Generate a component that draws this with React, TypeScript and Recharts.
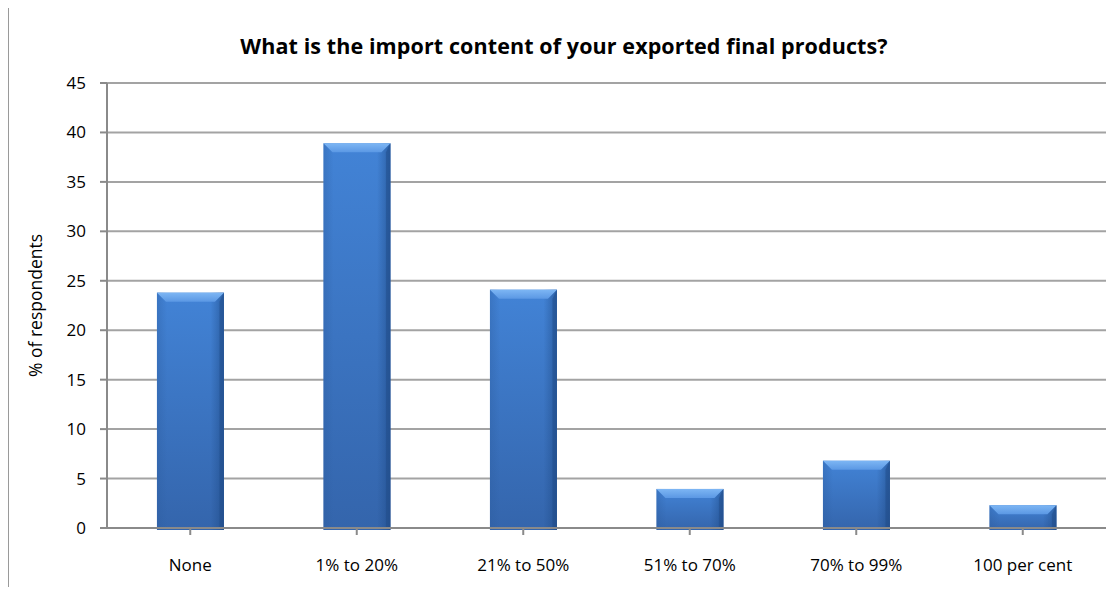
import { Bar, BarChart, CartesianGrid, XAxis, YAxis } from "recharts";

const categories = ["None", "1% to 20%", "21% to 50%", "51% to 70%", "70% to 99%", "100 per cent"];
const respondents = [23.8, 38.9, 24.1, 3.95, 6.8, 2.3];
const yTicks = [0, 5, 10, 15, 20, 25, 30, 35, 40, 45];

const data = categories.map((name, i) => ({ name, value: respondents[i] }));

const FONT = "'Open Sans', Lato, sans-serif";
const GRID = "#A3A3A3";

/** Excel-style bevelled column: darker sides, lighter bevel along the top. */
function BevelBar(props: any) {
  const { x, y, width, height } = props;
  if (!height || height <= 0) return null;
  const b = Math.min(9, height / 2);
  return (
    <g>
      <rect x={x} y={y} width={width} height={height + 2} fill="url(#barBody)" />
      <rect x={x} y={y} width={width} height={height + 2} fill="url(#barShade)" />
      <polygon
        points={`${x},${y} ${x + width},${y} ${x + width - b},${y + b} ${x + b},${y + b}`}
        fill="url(#barBevel)"
      />
      <polygon
        points={`${x + width},${y} ${x + width - b / 2},${y + b} ${x + width - b / 2},${y + height} ${x + width},${y + height + 2}`}
        fill="#1E4A86"
        opacity={0.45}
      />
    </g>
  );
}

export default function App() {
  return (
    <div
      style={{
        position: "relative",
        margin: -8,
        width: 1120,
        height: 595,
        overflow: "hidden",
        background: "#fff",
        fontFamily: FONT,
      }}
    >
      <div
        style={{
          position: "absolute",
          left: 7,
          top: 6,
          width: 1200,
          height: 700,
          border: "2px solid #9A9A9A",
          boxSizing: "border-box",
        }}
      />
      <div
        style={{
          position: "absolute",
          left: 0,
          width: 1128,
          top: 31,
          textAlign: "center",
          fontSize: 21.5,
          fontWeight: 700,
          color: "#000",
          whiteSpace: "nowrap",
          letterSpacing: 0.1,
        }}
      >
        What is the import content of your exported final products?
      </div>
      <div style={{ position: "absolute", left: 0, top: 0 }}>
        <BarChart
          width={1120}
          height={595}
          data={data}
          margin={{ top: 83, right: 14, bottom: 27, left: 0 }}
          barCategoryGap="30%"
        >
          <defs>
            <linearGradient id="barBody" x1="0" y1="0" x2="0" y2="1">
              <stop offset="0%" stopColor="#4283D6" />
              <stop offset="100%" stopColor="#3465AC" />
            </linearGradient>
            <linearGradient id="barShade" x1="0" y1="0" x2="1" y2="0">
              <stop offset="0%" stopColor="#2C5C9E" stopOpacity={0.35} />
              <stop offset="15%" stopColor="#2C5C9E" stopOpacity={0} />
              <stop offset="80%" stopColor="#1E4A86" stopOpacity={0} />
              <stop offset="100%" stopColor="#1E4A86" stopOpacity={0.6} />
            </linearGradient>
            <linearGradient id="barBevel" x1="0" y1="0" x2="0" y2="1">
              <stop offset="0%" stopColor="#7DB6F4" />
              <stop offset="100%" stopColor="#5B98E4" />
            </linearGradient>
          </defs>
          <CartesianGrid vertical={false} stroke={GRID} strokeWidth={2} />
          <XAxis
            dataKey="name"
            height={40}
            stroke="#8A8A8A"
            strokeWidth={2}
            tickSize={7}
            tickMargin={24}
            tick={{ fill: "#000", fontSize: 17, fontFamily: FONT }}
            interval={0}
          />
          <YAxis
            domain={[0, 45]}
            ticks={yTicks}
            width={107}
            stroke="#8A8A8A"
            strokeWidth={2}
            tickSize={7}
            tickMargin={14}
            tick={{ fill: "#000", fontSize: 17, fontFamily: FONT }}
            label={{
              value: "% of respondents",
              angle: -90,
              position: "insideLeft",
              offset: 36,
              style: { textAnchor: "middle", fontSize: 17.5, fontFamily: FONT, fill: "#000" },
            }}
          />
          <Bar dataKey="value" shape={BevelBar} isAnimationActive={false} />
        </BarChart>
      </div>
    </div>
  );
}
